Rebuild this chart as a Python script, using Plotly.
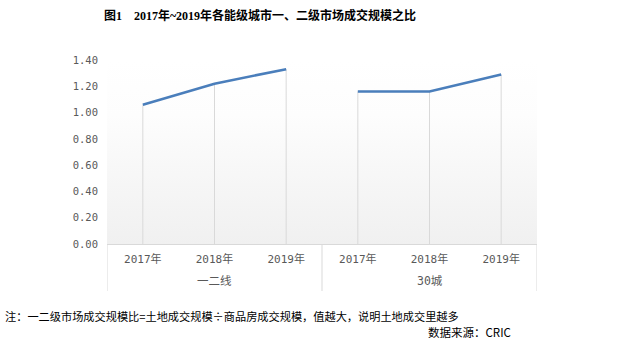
import base64
import plotly.graph_objects as go

groups = ["一二线", "30城"]
years = ["2017年", "2018年", "2019年"]
values_tier12 = [1.06, 1.22, 1.33]
values_30 = [1.16, 1.16, 1.29]
y_ticks = [0.0, 0.2, 0.4, 0.6, 0.8, 1.0, 1.2, 1.4]
y_tick_text = ["%.2f" % v for v in y_ticks]

title_text = "<b>图1　2017年~2019年各能级城市一、二级市场成交规模之比</b>"
note_text = "注：一二级市场成交规模比=土地成交规模÷商品房成交规模，值越大，说明土地成交里越多"
source_text = "数据来源：CRIC"

LINE = "#4a7ebb"
GRID = "#d9d9d9"
TXT = "#595959"
MONO = "DejaVu Sans Mono, Noto Sans CJK SC"
CJK = "Noto Sans CJK SC, sans-serif"

fig = go.Figure()

series = [values_tier12, values_30]
n_y = len(years)
n_cat = len(groups) * n_y
tick_pos = list(range(n_cat))
tick_txt = years * len(groups)

# drop lines (drawn first)
for gi, vals in enumerate(series):
    xs = [gi * n_y + j for j in range(n_y)]
    fig.add_trace(go.Scatter(
        x=xs, y=vals, mode="markers",
        marker=dict(size=1, opacity=0),
        error_y=dict(type="data", symmetric=False, array=[0] * len(vals),
                     arrayminus=vals, color=GRID, thickness=1, width=0),
        hoverinfo="skip", showlegend=False))
for gi, vals in enumerate(series):
    xs = [gi * n_y + j for j in range(n_y)]
    fig.add_trace(go.Scatter(
        x=xs, y=vals, mode="lines",
        line=dict(color=LINE, width=2.6), showlegend=False))

svg = ('<svg xmlns="http://www.w3.org/2000/svg" width="100" height="100" preserveAspectRatio="none">'
       '<defs><linearGradient id="g" x1="0" y1="0" x2="0" y2="1">'
       '<stop offset="0" stop-color="#ffffff"/><stop offset="0.3" stop-color="#fdfdfd"/>'
       '<stop offset="1" stop-color="#f0f0f0"/></linearGradient></defs>'
       '<rect width="100" height="100" fill="url(#g)"/></svg>')
src = "data:image/svg+xml;base64," + base64.b64encode(svg.encode()).decode()

W, H = 623, 351
L, R, T, B = 107, 86, 60, 107
pw, ph = W - L - R, H - T - B

def px(x):
    return (x - L) / pw

def py(y):
    return (H - B - y) / ph

shapes = []
annotations = []
for gi in range(len(groups) + 1):
    xb = gi * n_y - 0.5
    shapes.append(dict(type="line", xref="x", yref="paper", x0=xb, x1=xb,
                       y0=0, y1=py(291), line=dict(color=GRID, width=1)))
for gi, g in enumerate(groups):
    annotations.append(dict(text=g, xref="x", yref="paper", x=gi * n_y + (n_y - 1) / 2,
                            y=py(281), xanchor="center", yanchor="middle", showarrow=False,
                            font=dict(family=MONO, size=11.5, color=TXT)))
annotations += [
    dict(text=note_text, xref="paper", yref="paper", x=px(3), y=py(316),
         xanchor="left", yanchor="middle", showarrow=False,
         font=dict(family=CJK, size=11.2, color="black")),
    dict(text=source_text, xref="paper", yref="paper", x=px(513), y=py(332),
         xanchor="right", yanchor="middle", showarrow=False,
         font=dict(family=CJK, size=11.5, color="black")),
]

fig.update_layout(
    width=W, height=H,
    margin=dict(l=L, r=R, t=T, b=B),
    paper_bgcolor="white", plot_bgcolor="rgba(0,0,0,0)",
    images=[dict(source=src, xref="paper", yref="paper", x=0, y=1,
                 sizex=1, sizey=1, sizing="stretch", layer="below",
                 xanchor="left", yanchor="top")],
    title=dict(text=title_text, x=260 / W, xref="container", xanchor="center",
               y=1 - 16 / H, yref="container", yanchor="middle",
               font=dict(family="Liberation Serif, Noto Sans CJK SC, serif", size=12, color="black")),
    xaxis=dict(range=[-0.5, n_cat - 0.5], tickvals=tick_pos, ticktext=tick_txt,
               showline=True, linecolor=GRID, linewidth=1,
               showgrid=False, ticks="", tickfont=dict(family=MONO, size=11, color=TXT),
               ticklabelstandoff=5, zeroline=False),
    yaxis=dict(range=[0, 1.4], tickvals=y_ticks, ticktext=y_tick_text,
               showgrid=False, zeroline=False, showline=False, ticks="",
               ticklabelstandoff=8,
               tickfont=dict(family=MONO, size=10.5, color=TXT)),
    shapes=shapes,
    annotations=annotations,
)

fig.write_html("out.html")
